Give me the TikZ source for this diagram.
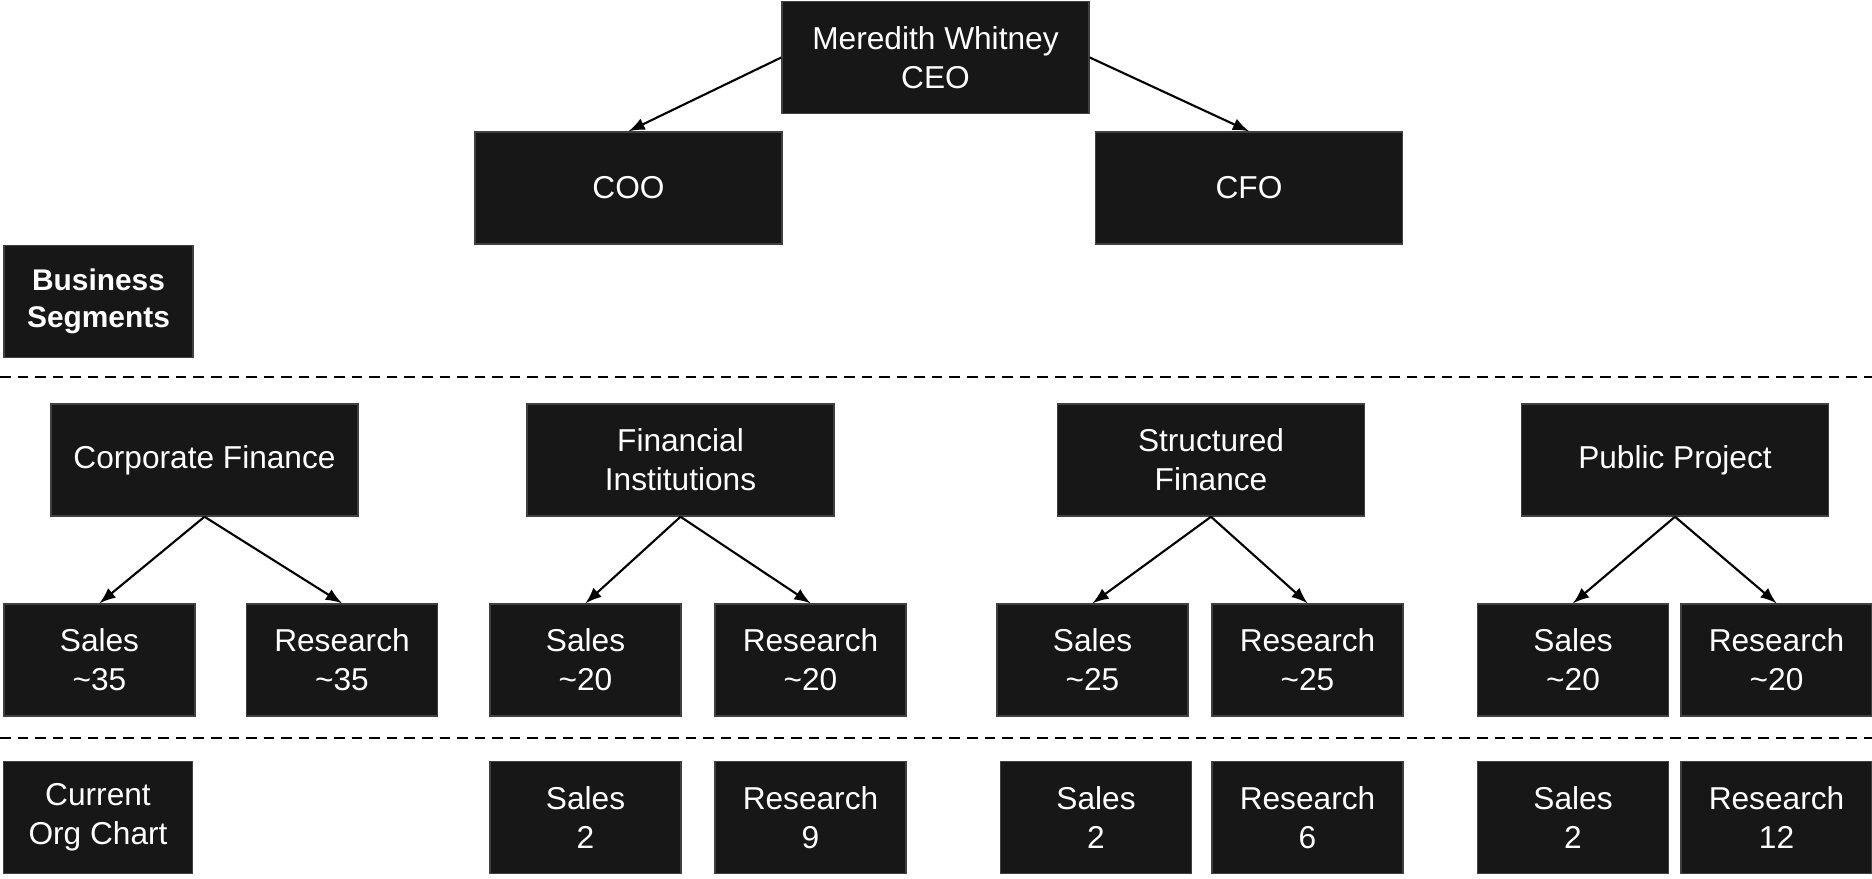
\documentclass[tikz,border=0pt]{standalone}
\usepackage{fontspec}
\setmainfont{Liberation Sans}
\usetikzlibrary{arrows}
\definecolor{boxgray}{rgb}{0.09, 0.09, 0.09}
\tikzset{unit/.style = {fill = boxgray, draw = black!75, text = white, align = center,
    inner sep = 0, font = \fontsize{9}{11}\selectfont}}
\tikzset{headbox/.style = {unit, minimum width = 3.07cm, minimum height = 1.12cm}}
\tikzset{teambox/.style = {unit, minimum width = 1.91cm, minimum height = 1.12cm}}
\tikzset{rowlabel/.style = {teambox, minimum width = 1.89cm}}
\tikzset{link/.style = {-latex, line width = 0.6pt}}
\tikzset{divider/.style = {line width = 0.5pt, dash pattern = on 3pt off 2pt}}

\begin{document}
\begin{tikzpicture}[x = 0.01cm, y = -0.01cm]
      \useasboundingbox (0, 0) rectangle (1872, 878);
      % management
      \node [headbox] (ceo) at (935.5, 57.5) {Meredith Whitney\\CEO};
      \node [headbox] (coo) at (628.5, 188) {COO};
      \node [headbox] (cfo) at (1249, 188) {CFO};
      \draw [link] (ceo.west) -- (coo.north);
      \draw [link] (ceo.east) -- (cfo.north);
      % row labels
      \node [rowlabel, font = \fontsize{8.5}{10.5}\selectfont\bfseries] (bizseg) at (98.5, 301.5) {Business\\Segments};
      \node [rowlabel] (current) at (98, 817.5) {Current\\Org Chart};
      % dividers
      \coordinate (upper-l) at (0, 377);
      \coordinate (upper-r) at (1872, 377);
      \coordinate (lower-l) at (0, 738);
      \coordinate (lower-r) at (1872, 738);
      \draw [divider] (upper-l) -- (upper-r);
      \draw [divider] (lower-l) -- (lower-r);
      % business segments
      \node [headbox] (cf) at (204.5, 460) {Corporate Finance};
      \node [headbox] (fi) at (680.5, 460) {Financial\\Institutions};
      \node [headbox] (sf) at (1211, 460) {Structured\\Finance};
      \node [headbox] (pp) at (1675, 460) {Public Project};
      % planned teams
      \foreach \seg/\sx/\rx/\n in {cf/99.5/342/35, fi/585.5/810.5/20, sf/1092.5/1307.5/25, pp/1573/1776.5/20} {
        \node [teambox] (\seg-sales) at (\sx, 660) {Sales\\\textasciitilde\n};
        \node [teambox] (\seg-research) at (\rx, 660) {Research\\\textasciitilde\n};
        \draw [link] (\seg.south) -- (\seg-sales.north);
        \draw [link] (\seg.south) -- (\seg-research.north);
      }
      % current teams
      \foreach \seg/\sx/\rx/\ns/\nr in {fi/585.5/810.5/2/9, sf/1096/1307.5/2/6, pp/1573/1776.5/2/12} {
        \node [teambox] (\seg-sales-now) at (\sx, 817.5) {Sales\\\ns};
        \node [teambox] (\seg-research-now) at (\rx, 817.5) {Research\\\nr};
      }

    \end{tikzpicture}
\end{document}
